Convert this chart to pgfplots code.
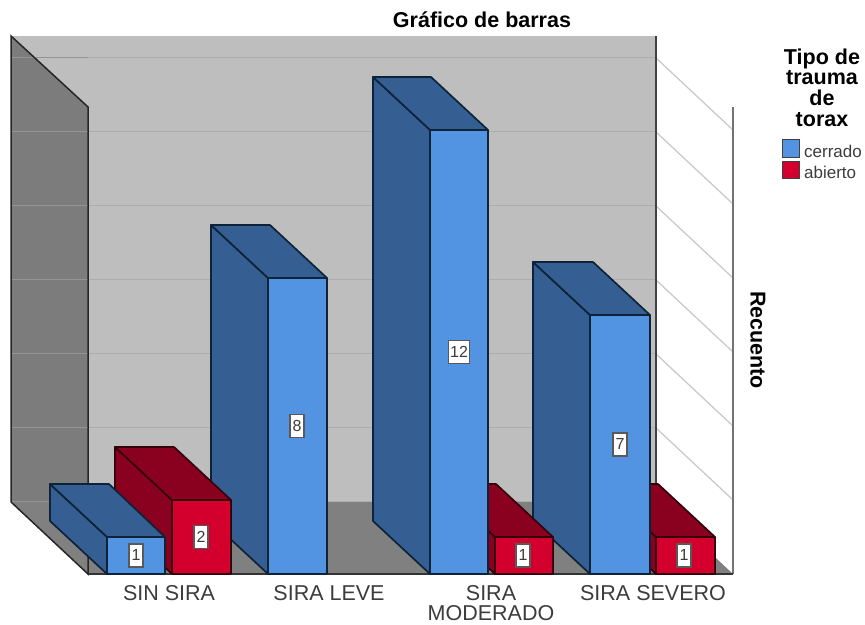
\documentclass[border=0pt]{standalone}
\usepackage{fontspec}
\setmainfont{Liberation Sans}
\usepackage{pgfplots}
\pgfplotsset{compat=1.18}
\definecolor{wallback}{HTML}{BEBEBE}
\definecolor{wallside}{HTML}{7C7C7C}
\definecolor{wallfloor}{HTML}{808080}
\definecolor{bluefront}{HTML}{5294E2}
\definecolor{bluedark}{HTML}{355F92}
\definecolor{blueline}{HTML}{0E2238}
\definecolor{redfront}{HTML}{D3002D}
\definecolor{reddark}{HTML}{8A001F}
\definecolor{redline}{HTML}{35000C}
\definecolor{txt}{HTML}{3C3C3C}
\tikzset{
 bl/.style={draw=blueline,fill=#1,line width=1.7pt,line join=round},
 rd/.style={draw=redline,fill=#1,line width=1.7pt,line join=round},
 val/.style={draw=black!65,fill=white,line width=1.2pt,inner sep=0pt,minimum height=23pt,minimum width=14pt,text=txt,font=\fontsize{16}{16}\selectfont},
 cat/.style={text=txt,align=center,font=\fontsize{21.5}{20.5}\selectfont,anchor=center},
 bold/.style={text=black,align=center,font=\fontsize{21.5}{20.7}\selectfont\bfseries},
 leg/.style={text=txt,anchor=west,inner sep=0pt,font=\fontsize{17}{17}\selectfont}
}
\begin{document}
\begin{tikzpicture}
\begin{axis}[
  hide axis, scale only axis, width=865pt, height=621pt,
  xmin=0, xmax=865, ymin=-1.2703, ymax=15.5135, clip=false]
% page
\addplot[draw=none,fill=white] coordinates {(0,-1.2703) (865,-1.2703) (865,15.5135) (0,15.5135)} --cycle;
% walls
\addplot[draw=none,fill=wallback] coordinates {(11,14.541) (656,14.541) (656,1.946) (11,1.946)} --cycle;
\addplot[draw=none,fill=wallside] coordinates {(11,14.541) (88,12.622) (88,0) (11,1.946)} --cycle;
\addplot[draw=none,fill=wallfloor] coordinates {(11,1.946) (88,0) (733,0) (656,1.946)} --cycle;
% grid on the back wall
\foreach \g in {3.946,5.946,7.946,9.946,11.946,13.946}{
  \edef\tmp{\noexpand\addplot[draw=black!32,line width=1pt] coordinates {(88,\g) (656,\g)};
  \noexpand\addplot[draw=black!42,line width=1pt] coordinates {(11,\g) (88,\g)};}\tmp
}
\addplot[draw=black!42,line width=1pt] coordinates {(11,1.946) (88,1.946)};
\addplot[draw=black!32,line width=1pt] coordinates {(88,1.946) (656,1.946)};
% grid on the right wall
\addplot[draw=black!22,line width=1.2pt] coordinates {(656,13.946) (733,12)};
\addplot[draw=black!22,line width=1.2pt] coordinates {(656,11.946) (733,10)};
\addplot[draw=black!22,line width=1.2pt] coordinates {(656,9.946) (733,8)};
\addplot[draw=black!22,line width=1.2pt] coordinates {(656,7.946) (733,6)};
\addplot[draw=black!22,line width=1.2pt] coordinates {(656,5.946) (733,4)};
\addplot[draw=black!22,line width=1.2pt] coordinates {(656,3.946) (733,2)};
% frame lines
\addplot[draw=black!85,line width=1.5pt] coordinates {(11,1.946) (11,14.541) (88,12.622) (88,0) (11,1.946)};
\addplot[draw=black!75,line width=1.8pt] coordinates {(656,14.541) (656,1.946)};
\addplot[draw=black!55,line width=1.2pt] coordinates {(733,12.622) (733,0)};
\addplot[draw=black!80,line width=1.5pt] coordinates {(88,0) (733,0)};
% SIRA SEVERO
\addplot[rd=reddark] coordinates {(599,2.432) (656,1) (656,0) (599,1.432)} --cycle;
\addplot[rd=reddark] coordinates {(599,2.432) (658,2.432) (715,1) (656,1)} --cycle;
\addplot[rd=redfront] coordinates {(656,0) (715,0) (715,1) (656,1)} --cycle;
\addplot[bl=bluedark] coordinates {(533,8.432) (590,7) (590,0) (533,1.432)} --cycle;
\addplot[bl=bluedark] coordinates {(533,8.432) (593,8.432) (650,7) (590,7)} --cycle;
\addplot[bl=bluefront] coordinates {(590,0) (650,0) (650,7) (590,7)} --cycle;
% SIRA MODERADO
\addplot[rd=reddark] coordinates {(438,2.432) (495,1) (495,0) (438,1.432)} --cycle;
\addplot[rd=reddark] coordinates {(438,2.432) (496,2.432) (553,1) (495,1)} --cycle;
\addplot[rd=redfront] coordinates {(495,0) (553,0) (553,1) (495,1)} --cycle;
\addplot[bl=bluedark] coordinates {(373,13.432) (430,12) (430,0) (373,1.432)} --cycle;
\addplot[bl=bluedark] coordinates {(373,13.432) (431,13.432) (488,12) (430,12)} --cycle;
\addplot[bl=bluefront] coordinates {(430,0) (488,0) (488,12) (430,12)} --cycle;
% SIRA LEVE
\addplot[bl=bluedark] coordinates {(211,9.432) (268,8) (268,0) (211,1.432)} --cycle;
\addplot[bl=bluedark] coordinates {(211,9.432) (270,9.432) (327,8) (268,8)} --cycle;
\addplot[bl=bluefront] coordinates {(268,0) (327,0) (327,8) (268,8)} --cycle;
% SIN SIRA
\addplot[rd=reddark] coordinates {(115,3.432) (172,2) (172,0) (115,1.432)} --cycle;
\addplot[rd=reddark] coordinates {(115,3.432) (174,3.432) (231,2) (172,2)} --cycle;
\addplot[rd=redfront] coordinates {(172,0) (231,0) (231,2) (172,2)} --cycle;
\addplot[bl=bluedark] coordinates {(50,2.432) (107,1) (107,0) (50,1.432)} --cycle;
\addplot[bl=bluedark] coordinates {(50,2.432) (109,2.432) (165,1) (107,1)} --cycle;
\addplot[bl=bluefront] coordinates {(107,0) (165,0) (165,1) (107,1)} --cycle;
% value boxes
\node[val] at (axis cs:136,0.5) {1};
\node[val] at (axis cs:201,1) {2};
\node[val] at (axis cs:297,4) {8};
\node[val,minimum width=21pt] at (axis cs:459,6) {12};
\node[val] at (axis cs:523,0.5) {1};
\node[val] at (axis cs:620,3.5) {7};
\node[val] at (axis cs:684,0.5) {1};
% category labels
\node[cat] at (axis cs:169,-0.51) {SIN SIRA};
\node[cat] at (axis cs:329,-0.51) {SIRA LEVE};
\node[cat] at (axis cs:491,-0.78) {SIRA\\MODERADO};
\node[cat] at (axis cs:653,-0.51) {SIRA SEVERO};
% titles
\node[bold] at (axis cs:482,14.97) {Gráfico de barras};
\node[bold,rotate=-90] at (axis cs:758,6.32) {Recuento};
\node[bold] at (axis cs:822,13.15) {Tipo de\\trauma\\de\\torax};
% legend
\addplot[draw=black!75,fill=bluefront,line width=1pt] coordinates {(782,11.73) (799,11.73) (799,11.27) (782,11.27)} --cycle;
\addplot[draw=black!75,fill=redfront,line width=1pt] coordinates {(782,11.14) (799,11.14) (799,10.70) (782,10.70)} --cycle;
\node[leg] at (axis cs:804,11.43) {cerrado};
\node[leg] at (axis cs:804,10.84) {abierto};
\end{axis}
\end{tikzpicture}
\end{document}
